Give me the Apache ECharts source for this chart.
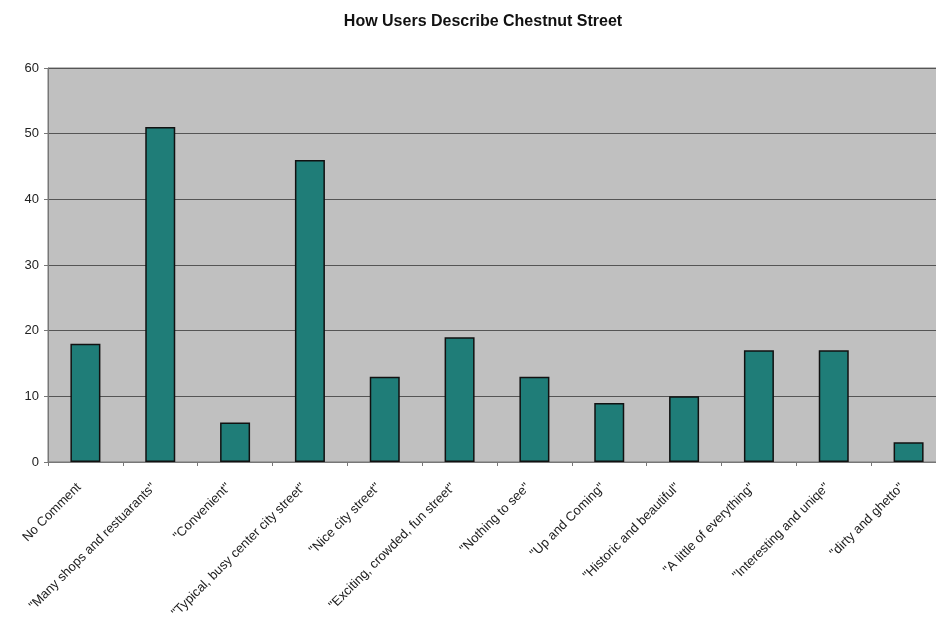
<!DOCTYPE html>
<html>
<head>
<meta charset="utf-8">
<script src="https://cdn.jsdelivr.net/npm/echarts@6/dist/echarts.min.js"></script>
<style>
  html, body { margin: 0; padding: 0; background: #fff; overflow: hidden; }
  /* canvas is a little wider than the window so the plot runs off the right edge */
  #chart { width: 960px; height: 625px; }
</style>
</head>
<body>
<div id="chart"></div>
<script>
// Survey responses: how users describe Chestnut Street
const categories = [
  'No Comment',
  '"Many shops and restuarants"',
  '"Convenient"',
  '"Typical, busy center city street"',
  '"Nice city street"',
  '"Exciting, crowded, fun street"',
  '"Nothing to see"',
  '"Up and Coming"',
  '"Historic and beautiful"',
  '"A little of everything"',
  '"Interesting and uniqe"',
  '"dirty and ghetto"'
];
const responses = [18, 51, 6, 46, 13, 19, 13, 9, 10, 17, 17, 3];
const yTicks = [0, 10, 20, 30, 40, 50, 60];

const FONT = 'Liberation Sans, Arial, sans-serif';

const chart = echarts.init(document.getElementById('chart'));
chart.setOption({
  animation: false,
  backgroundColor: '#ffffff',
  title: {
    text: 'How Users Describe Chestnut Street',
    left: 478,
    textAlign: 'center',
    top: 9,
    textStyle: { fontFamily: FONT, fontSize: 16, fontWeight: 'bold', color: '#111' }
  },
  grid: {
    left: 48, top: 68, width: 898, height: 394,
    show: true, backgroundColor: '#c0c0c0', borderColor: '#777', borderWidth: 1
  },
  xAxis: {
    type: 'category',
    data: categories,
    axisLine: { show: true, lineStyle: { color: '#777', width: 1 } },
    axisTick: { show: true, alignWithLabel: false, length: 4, lineStyle: { color: '#777' } },
    axisLabel: {
      interval: 0, rotate: 45, margin: 17, padding: [0, 9, 0, 0],
      fontFamily: FONT, fontSize: 13, color: '#222'
    }
  },
  yAxis: {
    type: 'value',
    min: yTicks[0], max: yTicks[yTicks.length - 1], interval: 10,
    axisLine: { show: true, lineStyle: { color: '#777' } },
    axisTick: { show: true, length: 4, lineStyle: { color: '#777' } },
    axisLabel: { fontFamily: FONT, fontSize: 13, color: '#222', margin: 9 },
    splitLine: { show: true, lineStyle: { color: '#555', width: 1 } }
  },
  series: [{
    type: 'bar',
    data: responses,
    barWidth: 30,
    itemStyle: { color: '#1f7d78', borderColor: '#111', borderWidth: 1.5 }
  }]
});
</script>
</body>
</html>
